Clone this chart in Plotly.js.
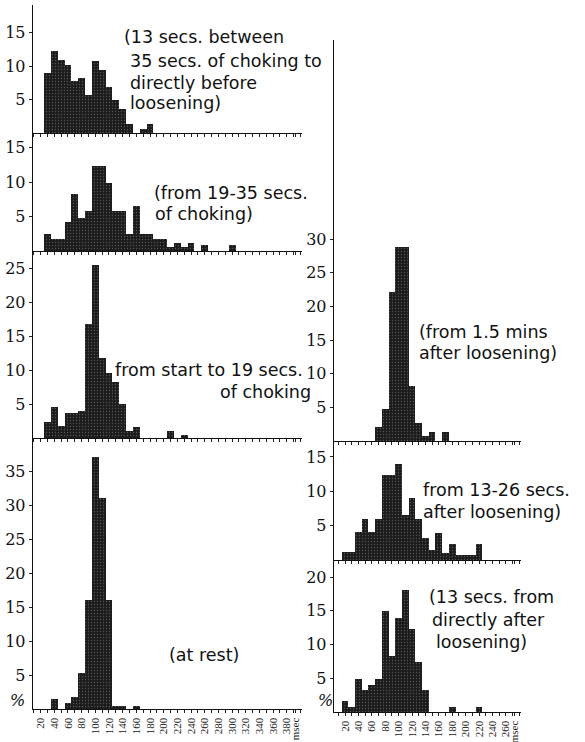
<!DOCTYPE html>
<html>
<head>
<meta charset="utf-8">
<script src="https://cdn.plot.ly/plotly-3.0.1.min.js"></script>
<style>html,body{margin:0;padding:0;background:#fff;}#chart{width:585px;height:742px;}</style>
</head>
<body>
<div id="chart"></div>
<script>
// ---- data: interval histograms (msec bins, % of beats) ----
const binsLeft1 = [30,40,50,60,70,80,90,100,110,120,130,140,150,160,170,180];
const valsLeft1 = [9.0,12.2,10.9,10.1,7.7,8.2,5.6,10.8,9.4,6.8,4.9,3.6,1.3,0,0.6,1.3];

const binsLeft2 = [30,40,50,60,70,80,90,100,110,120,130,140,150,160,170,180,190,200,210,220,230,240,250,260,270,280,290,300];
const valsLeft2 = [2.4,1.7,1.7,4.2,8.2,4.8,5.8,12.3,12.3,9.9,5.8,5.8,2.4,6.5,2.4,2.4,1.7,1.7,0.6,1.2,0.6,1.2,0,0.8,0,0,0,0.9];

const binsLeft3 = [30,40,50,60,70,80,90,100,110,120,130,140,150,160,170,180,190,200,210,220,230];
const valsLeft3 = [2.3,4.6,1.7,3.7,3.7,3.9,16.8,25.5,11.8,9.6,8.3,5.0,1.1,1.6,0,0,0,0,1.0,0,0.5];

const binsLeft4 = [40,50,60,70,80,90,100,110,120,130,140,150,160];
const valsLeft4 = [1.5,0,0.9,1.8,5.3,16,37,31,16,0.5,0.5,0,0.5];

const binsRight1 = [70,80,90,100,110,120,130,140,150,160,170];
const valsRight1 = [2.1,4.7,22.2,28.9,28.9,8.1,2.7,0.7,1.3,0,1.3];

const binsRight2 = [20,30,40,50,60,70,80,90,100,110,120,130,140,150,160,170,180,190,200,210,220];
const valsRight2 = [1.1,1.1,4.1,5.9,4.1,5.9,12.4,12.4,14.0,6.6,9.0,5.9,3.2,1.5,4.0,1.0,2.3,0.7,0.7,0.7,2.3];

const binsRight3 = [20,30,40,50,60,70,80,90,100,110,120,130,140,150,160,170,180,190,200,210,220];
const valsRight3 = [1.6,0.7,4.9,3.2,4.0,4.9,14.9,8.3,14.0,18.1,12.3,7.4,3.2,0,0,0,0.8,0,0,0,0.8];

const leftTickVals = [20,40,60,80,100,120,140,160,180,200,220,240,260,280,300,320,340,360,380,393];
const leftTickText = ['20','40','60','80','100','120','140','160','180','200','220','240','260','280','300','320','340','360','380','msec'];
const rightTickVals = [20,40,60,80,100,120,140,160,180,200,220,240,260,273];
const rightTickText = ['20','40','60','80','100','120','140','160','180','200','220','240','260','msec'];

const ticksL1 = [5,10,15], ticksL2 = [5,10,15], ticksL3 = [5,10,15,20,25], ticksL4 = [5,10,15,20,25,30,35];
const ticksR1 = [5,10,15,20,25,30], ticksR2 = [5,10,15], ticksR3 = [5,10,15,20];

// ---- layout helpers ----
const W = 585, H = 742;
const px2x = p => p / W;
const py2y = p => 1 - p / H;

const panels = [
  {bins: binsLeft1, vals: valsLeft1, side: 'L', top: 5,   base: 133, unit: 6.7,  ticks: ticksL1, labels: false},
  {bins: binsLeft2, vals: valsLeft2, side: 'L', top: 133, base: 251, unit: 6.9,  ticks: ticksL2, labels: false},
  {bins: binsLeft3, vals: valsLeft3, side: 'L', top: 251, base: 438, unit: 6.8,  ticks: ticksL3, labels: false},
  {bins: binsLeft4, vals: valsLeft4, side: 'L', top: 438, base: 709, unit: 6.8,  ticks: ticksL4, labels: true},
  {bins: binsRight1, vals: valsRight1, side: 'R', top: 40,  base: 441, unit: 6.73, ticks: ticksR1, labels: false},
  {bins: binsRight2, vals: valsRight2, side: 'R', top: 441, base: 560, unit: 6.87, ticks: ticksR2, labels: false},
  {bins: binsRight3, vals: valsRight3, side: 'R', top: 560, base: 712, unit: 6.75, ticks: ticksR3, labels: true}
];

const sideCfg = {
  L: {x0: 33, x1: 302, ref: 95.3, refVal: 100, scale: 0.684, tv: leftTickVals, tt: leftTickText},
  R: {x0: 334, x1: 521, ref: 345, refVal: 20, scale: 0.67, tv: rightTickVals, tt: rightTickText}
};

const data = [];
const layout = {
  width: W, height: H,
  margin: {l: 0, r: 0, t: 0, b: 0},
  paper_bgcolor: '#fff', plot_bgcolor: 'rgba(0,0,0,0)',
  showlegend: false, bargap: 0,
  font: {family: 'DejaVu Serif, serif', color: '#111'},
  annotations: []
};

panels.forEach((p, i) => {
  const n = i + 1;
  const xa = 'x' + (n === 1 ? '' : n), ya = 'y' + (n === 1 ? '' : n);
  const xk = 'xaxis' + (n === 1 ? '' : n), yk = 'yaxis' + (n === 1 ? '' : n);
  const s = sideCfg[p.side];
  const m0 = s.refVal + (s.x0 - s.ref) / s.scale;
  const m1 = s.refVal + (s.x1 - s.ref) / s.scale;
  data.push({
    type: 'bar', x: p.bins, y: p.vals, xaxis: xa, yaxis: ya, width: 10,
    marker: {
      color: '#1c1c1c',
      line: {width: 0},
      pattern: {shape: '.', fillmode: 'replace', bgcolor: '#1c1c1c', fgcolor: '#555', size: 3, solidity: 0.15}
    },
    hoverinfo: 'skip'
  });
  layout[xk] = {
    domain: [px2x(s.x0), px2x(s.x1)], range: [m0, m1], anchor: ya,
    showgrid: false, zeroline: false, showline: true, linecolor: '#111', linewidth: 1.3,
    ticks: 'outside', ticklen: 3, tickwidth: 1, tickcolor: '#222',
    tickmode: 'array', tickvals: s.tv, ticktext: s.tt,
    showticklabels: p.labels, tickangle: -90,
    tickfont: {family: 'Liberation Serif, serif', size: 11, color: '#222'},
    minor: {dtick: 10, tick0: 0, ticks: 'outside', ticklen: 3, tickcolor: '#222'},
    fixedrange: true
  };
  layout[yk] = {
    domain: [py2y(p.base), py2y(p.top)], range: [0, (p.base - p.top) / p.unit], anchor: xa,
    showgrid: false, zeroline: false, showline: true, linecolor: '#111', linewidth: 1.3,
    ticks: 'outside', ticklen: 3, tickcolor: '#222',
    tickmode: 'array', tickvals: p.ticks, ticktext: p.ticks.map(String),
    tickfont: {family: 'DejaVu Serif, serif', size: 16, color: '#111'},
    ticklabelstandoff: 0,
    fixedrange: true
  };
});

// ---- captions ----
const capFont = {family: 'DejaVu Sans, sans-serif', size: 17.5, color: '#111'};
const captions = [
  ['(13 secs. between', 122, 37],
  ['35 secs. of choking to', 128, 61],
  ['directly before', 128, 83],
  ['loosening)', 128, 103],
  ['(from 19-35 secs.', 152, 193],
  ['of choking)', 153, 214],
  ['from start to 19 secs.', 113, 370],
  ['of choking', 218, 392],
  ['(at rest)', 167, 655],
  ['(from 1.5 mins', 417, 332],
  ['after loosening)', 417, 353],
  ['from 13-26 secs.', 421, 490],
  ['after loosening)', 421, 512],
  ['(13 secs. from', 427, 597],
  ['directly after', 430, 620],
  ['loosening)', 434, 642]
];
captions.forEach(c => layout.annotations.push({
  text: c[0], xref: 'paper', yref: 'paper', x: px2x(c[1]), y: py2y(c[2]),
  xanchor: 'left', yanchor: 'middle', showarrow: false, font: capFont
}));
[[17, 700], [325, 700]].forEach(c => layout.annotations.push({
  text: '<i>%</i>', xref: 'paper', yref: 'paper', x: px2x(c[0]), y: py2y(c[1]),
  xanchor: 'center', yanchor: 'middle', showarrow: false,
  font: {family: 'DejaVu Serif, serif', size: 16, color: '#111'}
}));

Plotly.newPlot('chart', data, layout, {staticPlot: true, displayModeBar: false});
</script>
</body>
</html>
